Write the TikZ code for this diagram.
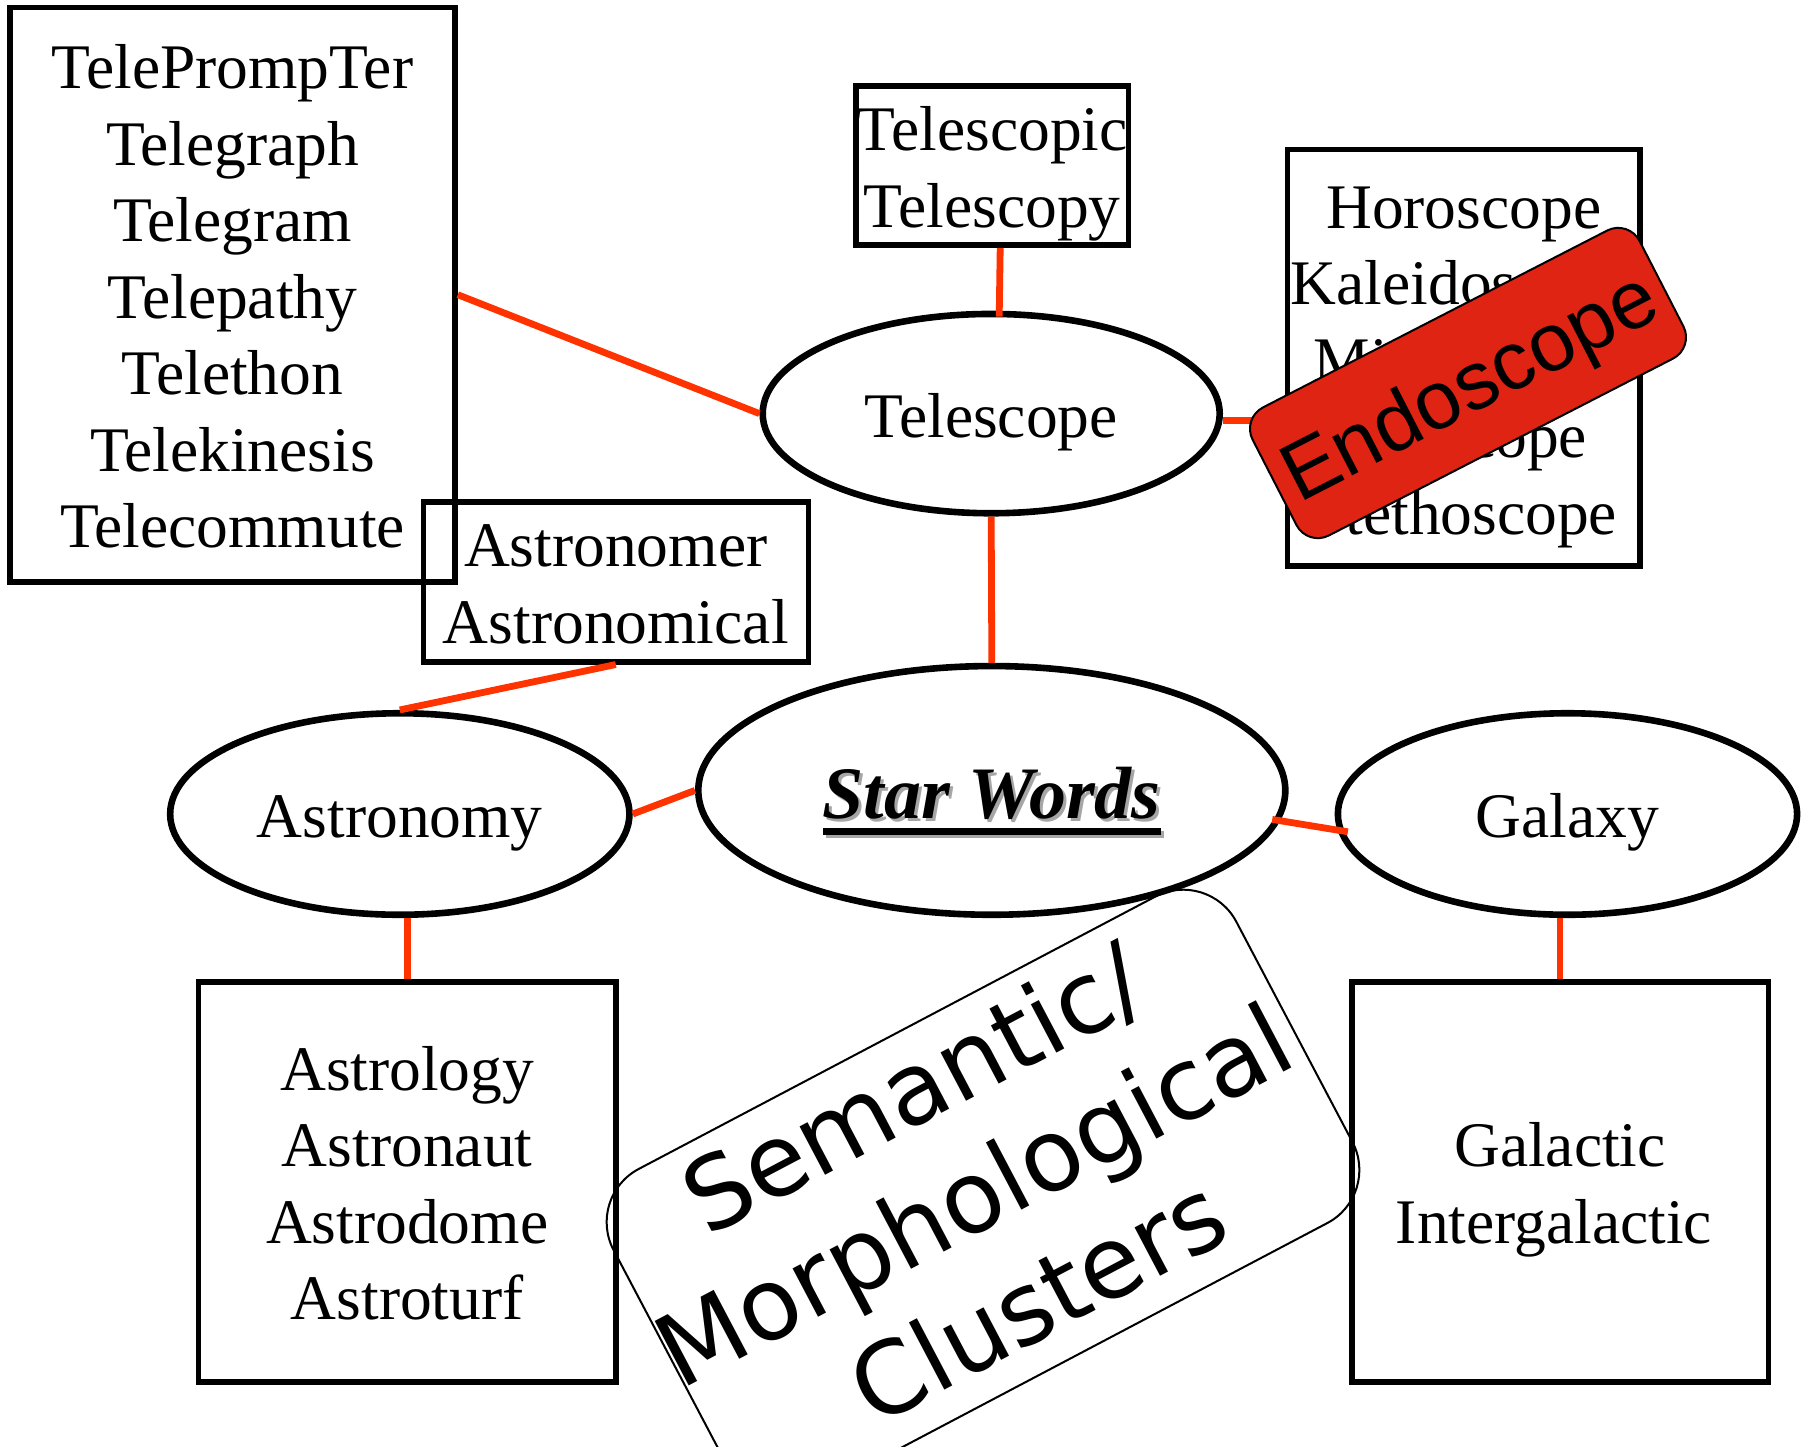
\documentclass[tikz,border=0pt]{standalone}
\usepackage{fontspec}
\setmainfont{Liberation Serif}
\newfontfamily\endofont{Liberation Sans}
\newfontfamily\clusfont{DejaVu Sans}
\usetikzlibrary{shapes.geometric}
\definecolor{conred}{RGB}{255,51,0}
\definecolor{endored}{RGB}{224,36,20}
\newcommand\lstr{\rule[-7.4pt]{0pt}{38.25pt}}
\newcommand\cstr{\rule[-15.25pt]{0pt}{61.5pt}}
\newcommand\ulst[1]{\setbox0=\hbox{#1}\rlap{\rule[-8.5pt]{\wd0}{3.6pt}}\box0}
\newcommand\startxt{\fontsize{37}{44}\selectfont\bfseries\itshape\rule[-10pt]{0pt}{48pt}\ulst{Star Words}}
\begin{document}
\begin{tikzpicture}[x=0.5pt,y=-0.5pt,
  box/.style={draw, line width=2.8pt, inner sep=0pt, align=center, font=\fontsize{31.75}{38.25}\selectfont},
  oval/.style={draw, ellipse, line width=3.3pt, inner sep=0pt, font=\fontsize{31.75}{38.25}\selectfont},
  conn/.style={draw=conred, line width=3.4pt},
  tag/.style={draw=black, line width=1pt, inner sep=0pt, rounded corners=12pt, fill=endored,
    font=\endofont\fontsize{41}{49}\selectfont},
  cluster/.style={draw=black, line width=1pt, inner sep=0pt, rounded corners=30pt, align=center,
    font=\clusfont\fontsize{50}{61.5}\selectfont},
]
\useasboundingbox (0,0) rectangle (1804,1446);

% boxes
\node[box, minimum width=222.5pt, minimum height=287.35pt] (tele) at (232.5,294.7)
  {\lstr TelePrompTer\\\lstr Telegraph\\\lstr Telegram\\\lstr Telepathy\\\lstr Telethon\\\lstr Telekinesis\\\lstr Telecommute};
\node[box, minimum width=136.15pt, minimum height=79.5pt] (scopic) at (992.2,165.5)
  {\lstr Telescopic\\\lstr Telescopy};
\node[box, minimum width=176.35pt, minimum height=208.35pt] (horo) at (1463.7,357.7)
  {\lstr Horoscope\\\lstr Kaleidoscope\\\lstr Microscope\\\lstr Periscope\\\lstr Stethoscope};
\node[box, minimum width=192.5pt, minimum height=80pt] (astbox) at (615.8,581.7)
  {\lstr Astronomer\\\lstr Astronomical};
\node[box, minimum width=208.85pt, minimum height=200pt] (astrobox) at (407.2,1181.7)
  {\lstr Astrology\\\lstr Astronaut\\\lstr Astrodome\\\lstr Astroturf};
\node[box, minimum width=208.3pt, minimum height=200pt] (galbox) at (1560,1181.7)
  {\lstr Galactic\\\lstr Intergalactic\hspace*{6pt}};

% ellipses
\node[oval, minimum width=228.5pt, minimum height=99.65pt] (telescope) at (991.2,413.6) {\lstr Telescope};
\node[inner sep=0pt, text=black!35] (starshadow) at ([xshift=1.5pt,yshift=-1.5pt]991.8,790.4) {\startxt};
\node[oval, minimum width=293.5pt, minimum height=124.35pt] (star) at (991.8,790.4) {\startxt};
\node[oval, minimum width=229.65pt, minimum height=100.75pt] (astro) at (399.8,814) {\lstr Astronomy};
\node[oval, minimum width=229.6pt, minimum height=100.75pt] (galaxy) at (1567.5,814) {\lstr Galaxy};

% connectors
\draw[conn] (tele.east) -- (telescope.west);
\draw[conn] ([xshift=4pt]scopic.south) -- ([xshift=4pt,yshift=-3pt]telescope.north);
\draw[conn] ([yshift=-3.5pt]telescope.east) -- ([yshift=-3.5pt]telescope.east -| horo.west);
\draw[conn] (telescope.south) -- (star.north);
\draw[conn] (astbox.south) -- (astro.north);
\draw[conn] (astro.east) -- (star.west);
\draw[conn, shorten <=-4pt, shorten >=-5.3pt] (star.-6.3) -- (galaxy.184.2);
\draw[conn] (astro.south -| astrobox.north) -- (astrobox.north);
\draw[conn] (galaxy.south -| galbox.north) -- (galbox.north);

% overlay labels
\node[tag, minimum width=217.5pt, minimum height=72pt, rotate=27.2] (endo) at (1468,383)
  {\rule[-10.3pt]{0pt}{50.3pt}Endoscope};
\node[cluster, minimum width=352pt, minimum height=183.5pt, rotate=27.8] (clus) at (983,1196)
  {\cstr\makebox[0pt]{Semantic/\hspace*{12pt}}\\\cstr\makebox[0pt]{Morphological\hspace*{8pt}}\\\cstr\makebox[0pt]{Clusters}};
\end{tikzpicture}
\end{document}
